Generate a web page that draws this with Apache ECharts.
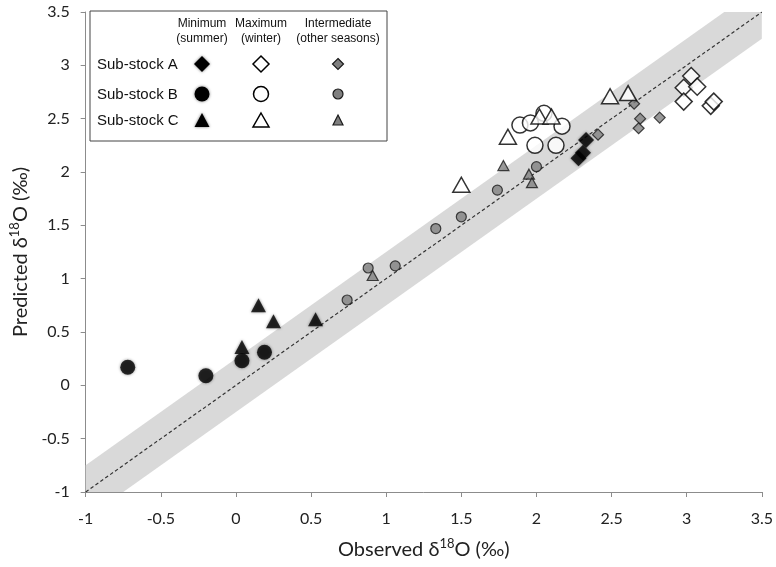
<!DOCTYPE html>
<html>
<head>
<meta charset="utf-8">
<script src="https://cdn.jsdelivr.net/npm/echarts@6/dist/echarts.min.js"></script>
<style>html,body{margin:0;padding:0;background:#fff}#c{width:776px;height:567px}</style>
</head>
<body>
<div id="c"></div>
<script>
// ---- data (observed, predicted) ----
const subA_min = [[2.33, 2.30], [2.31, 2.18], [2.28, 2.13]];
const subA_max = [[3.03, 2.90], [2.98, 2.79], [3.07, 2.80], [2.98, 2.66], [3.16, 2.62], [3.18, 2.66]];
const subA_int = [[2.65, 2.64], [2.69, 2.50], [2.68, 2.41], [2.82, 2.51], [2.41, 2.35]];
const subB_min = [[-0.72, 0.17], [-0.20, 0.09], [0.04, 0.23], [0.19, 0.31]];
const subB_max = [[1.89, 2.44], [1.96, 2.46], [2.05, 2.55], [2.17, 2.43], [1.99, 2.25], [2.13, 2.25]];
const subB_int = [[0.74, 0.80], [0.88, 1.10], [1.06, 1.12], [1.33, 1.47], [1.50, 1.58], [1.74, 1.83], [2.00, 2.05]];
const subC_min = [[0.15, 0.75], [0.25, 0.60], [0.04, 0.36], [0.53, 0.62]];
const subC_max = [[1.50, 1.88], [1.81, 2.33], [2.02, 2.52], [2.10, 2.52], [2.49, 2.71], [2.61, 2.74]];
const subC_int = [[0.91, 1.03], [1.78, 2.06], [1.95, 1.98], [1.97, 1.90]];
const oneToOne = [-1, 3.5];        // 1:1 reference line range
const bandHalf = 0.25;             // grey tolerance band half-width
const ticks = { min: -1, max: 3.5, step: 0.5 };
const rowLabels = ['Sub-stock A', 'Sub-stock B', 'Sub-stock C'];
const colLabels = [['Minimum', '(summer)'], ['Maximum', '(winter)'], ['Intermediate', '(other seasons)']];

const chart = echarts.init(document.getElementById('c'), null, { renderer: 'canvas' });

const minStyle = { color: '#000', shadowBlur: 3, shadowColor: 'rgba(0,0,0,0.55)' };
const maxStyle = { color: '#fff', borderColor: '#000', borderWidth: 1.5 };
const intStyle = { color: '#7f7f7f', borderColor: '#1a1a1a', borderWidth: 1.2 };

function sc(name, data, symbol, size, style, z) {
  return { name, type: 'scatter', data, symbol, symbolSize: size, itemStyle: style, z: z || 3, silent: true };
}

const axisCommon = {
  min: ticks.min, max: ticks.max, interval: ticks.step,
  splitLine: { show: false },
  axisLine: { onZero: false, lineStyle: { color: '#8c8c8c', width: 1 } },
  axisTick: { show: true, inside: false, length: 5, lineStyle: { color: '#8c8c8c' } },
  axisLabel: { color: '#222', fontFamily: 'Lato', fontSize: 16 },
  nameLocation: 'middle',
  nameTextStyle: { color: '#222', fontFamily: 'Lato', fontSize: 20 }
};

const richName = {
  n: { fontFamily: 'Lato', fontSize: 20, color: '#222', lineHeight: 25 },
  s: { fontFamily: 'Lato', fontSize: 13, color: '#222', verticalAlign: 'top', lineHeight: 25 }
};

// legend graphics
const legX = [202, 261, 338];
const legY = [64, 94, 120];
const gfx = [];
gfx.push({ type: 'rect', shape: { x: 90, y: 11, width: 297, height: 130 }, style: { fill: '#fff', stroke: '#444', lineWidth: 1 }, z: 10 });
colLabels.forEach((c, i) => {
  gfx.push({ type: 'text', x: legX[i], y: 24, style: { text: c[0], font: '12px "Liberation Sans"', fill: '#111', align: 'center', verticalAlign: 'middle' }, z: 11 });
  gfx.push({ type: 'text', x: legX[i], y: 39, style: { text: c[1], font: '12px "Liberation Sans"', fill: '#111', align: 'center', verticalAlign: 'middle' }, z: 11 });
});
rowLabels.forEach((r, i) => {
  gfx.push({ type: 'text', x: 97, y: legY[i] + 1, style: { text: r, font: '15px "Liberation Sans"', fill: '#111', align: 'left', verticalAlign: 'middle' }, z: 11 });
});
function diamond(cx, cy, r, style) {
  return { type: 'polygon', shape: { points: [[cx, cy - r], [cx + r, cy], [cx, cy + r], [cx - r, cy]] }, style, z: 11 };
}
function tri(cx, cy, w, h, style) {
  return { type: 'polygon', shape: { points: [[cx, cy - h / 2], [cx + w / 2, cy + h / 2], [cx - w / 2, cy + h / 2]] }, style, z: 11 };
}
function circ(cx, cy, r, style) {
  return { type: 'circle', shape: { cx, cy, r }, style, z: 11 };
}
const gMin = { fill: '#000', shadowBlur: 3, shadowColor: 'rgba(0,0,0,0.55)' };
const gMax = { fill: '#fff', stroke: '#000', lineWidth: 1.5 };
const gInt = { fill: '#7f7f7f', stroke: '#1a1a1a', lineWidth: 1.2 };
gfx.push(diamond(legX[0], legY[0], 8, gMin), diamond(legX[1], legY[0], 8, gMax), diamond(legX[2], legY[0], 5.5, gInt));
gfx.push(circ(legX[0], legY[1], 7.5, gMin), circ(legX[1], legY[1], 7.5, gMax), circ(legX[2], legY[1], 5, gInt));
gfx.push(tri(legX[0], legY[2], 15, 14, gMin), tri(legX[1], legY[2], 16, 14, gMax), tri(legX[2], legY[2], 10, 10, gInt));

const option = {
  animation: false,
  backgroundColor: '#fff',
  grid: { left: 82, right: 12, top: 12, bottom: 75 },
  xAxis: Object.assign({}, axisCommon, {
    type: 'value',
    axisLabel: Object.assign({}, axisCommon.axisLabel, { margin: 19 }),
    name: '{n|Observed δ}{s|18}{n|O (‰)}',
    nameGap: 45,
    nameTextStyle: Object.assign({}, axisCommon.nameTextStyle, { rich: richName })
  }),
  yAxis: Object.assign({}, axisCommon, {
    type: 'value',
    axisLabel: Object.assign({}, axisCommon.axisLabel, { margin: 16 }),
    name: '{n|Predicted δ}{s|18}{n|O (‰)}',
    nameGap: 48,
    nameRotate: 90,
    nameTextStyle: Object.assign({}, axisCommon.nameTextStyle, { rich: richName })
  }),
  graphic: gfx,
  series: [
    {
      type: 'custom', silent: true, z: 1, clip: true,
      data: [[oneToOne[0], oneToOne[1]]],
      renderItem: function (params, api) {
        const lo = api.value(0), hi = api.value(1);
        const pts = [
          api.coord([lo, lo + bandHalf]),
          api.coord([hi - bandHalf, hi]),
          api.coord([hi, hi]),
          api.coord([hi, hi - bandHalf]),
          api.coord([lo + bandHalf, lo]),
          api.coord([lo, lo])
        ];
        return { type: 'polygon', shape: { points: pts }, style: { fill: '#d9d9d9' } };
      }
    },
    {
      type: 'line', silent: true, z: 2, symbol: 'none',
      data: [[oneToOne[0], oneToOne[0]], [oneToOne[1], oneToOne[1]]],
      lineStyle: { color: '#333', width: 1.2, type: [3.5, 2.5] }
    },
    sc('A int', subA_int, 'diamond', 11, intStyle, 3),
    sc('B int', subB_int, 'circle', 10, intStyle, 3),
    sc('C int', subC_int, 'triangle', [11, 10], intStyle, 3),
    sc('A max', subA_max, 'diamond', 17, maxStyle, 4),
    sc('B max', subB_max, 'circle', 16, maxStyle, 4),
    sc('C max', subC_max, 'triangle', [17, 15], maxStyle, 4),
    sc('A min', subA_min, 'diamond', 16, minStyle, 5),
    sc('B min', subB_min, 'circle', 15, minStyle, 5),
    sc('C min', subC_min, 'triangle', [15, 14], minStyle, 5)
  ]
};
chart.setOption(option);
</script>
</body>
</html>
